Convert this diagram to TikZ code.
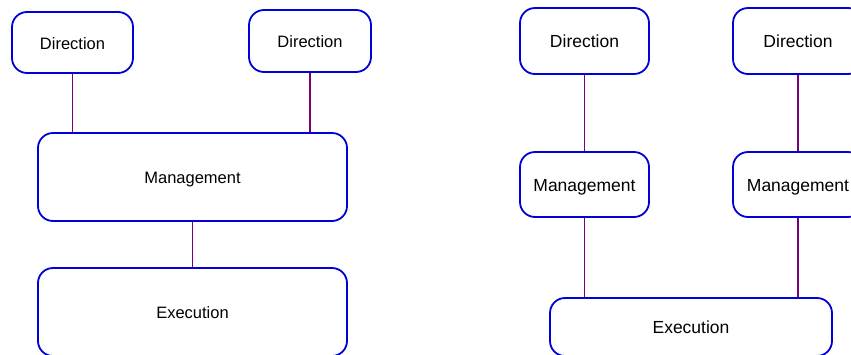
\documentclass[tikz,border=0pt]{standalone}
\usepackage{fontspec}
\setmainfont{Liberation Sans}
\definecolor{boxblue}{RGB}{0,0,215}
\definecolor{linkpurple}{RGB}{120,0,120}
\begin{document}
\begin{tikzpicture}[x=1pt,y=-1pt,
  box/.style={draw=boxblue, line width=1.8pt, rounded corners=15pt, fill=white,
    inner sep=0pt, text height=13pt, text depth=0pt,
    font=\fontsize{16.5}{18}\selectfont, text=black},
  bigbox/.style={box, text height=13.5pt, font=\fontsize{17.5}{19}\selectfont},
  link/.style={draw=linkpurple, line width=1.4pt}]
\useasboundingbox (0,0) rectangle (851,354);
\clip (0,0) rectangle (851,354);
% left diagram
\node[box, minimum width=121pt, minimum height=61pt] (d1) at (72.5,42.5) {Direction};
\node[box, minimum width=122pt, minimum height=62pt] (d2) at (310,41) {Direction};
\node[box, minimum width=309pt, minimum height=88pt] (m1) at (192.5,177) {Management};
\node[box, minimum width=309pt, minimum height=88pt] (e1) at (192.5,312) {Execution};
% right diagram
\node[bigbox, minimum width=129pt, minimum height=66pt] (d3) at (584.5,41) {Direction};
\node[bigbox, minimum width=130pt, minimum height=66pt] (d4) at (798,41) {Direction};
\node[bigbox, minimum width=129pt, minimum height=65pt] (m3) at (584.5,184.5) {Management};
\node[bigbox, minimum width=130pt, minimum height=65pt] (m4) at (798,184.5) {Management};
\node[bigbox, minimum width=282pt, minimum height=58pt] (e2) at (691,327) {Execution};
% connectors
\draw[link] (d1.south) -- (d1.south |- m1.north);
\draw[link] (d2.south) -- (d2.south |- m1.north);
\draw[link] (m1.south) -- (e1.north);
\draw[link] (d3.south) -- (m3.north);
\draw[link] (d4.south) -- (m4.north);
\draw[link] (m3.south) -- (m3.south |- e2.north);
\draw[link] (m4.south) -- (m4.south |- e2.north);
\end{tikzpicture}
\end{document}
